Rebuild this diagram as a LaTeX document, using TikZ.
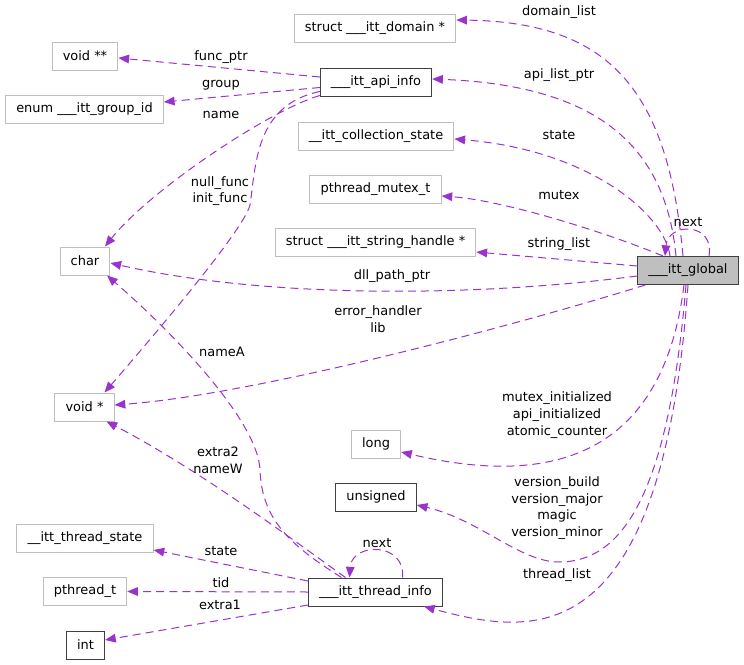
\documentclass[tikz,border=0pt]{standalone}
\usepackage{fontspec}
\setmainfont{DejaVu Sans}
\usetikzlibrary{arrows.meta,calc}
\definecolor{edgepurple}{HTML}{9A32CD}
\definecolor{boxgray}{HTML}{BFBFBF}
\definecolor{boxdark}{HTML}{404040}

\begin{document}
\begin{tikzpicture}[x=0.75pt, y=-0.75pt,
  every node/.style={font=\fontsize{9.7}{12.5}\selectfont},
  cls/.style={draw=boxgray, line width=0.75pt, fill=white, inner xsep=8pt, inner ysep=0pt, minimum height=21pt},
  doc/.style={cls, draw=boxdark},
  lbl/.style={align=center, inner sep=0pt},
  mem/.style={edgepurple, line width=0.75pt, dash pattern=on 6pt off 3.8pt, -{Triangle[length=8pt,width=6.5pt]}}]
\useasboundingbox (0,0) rectangle (744,665);

% classes
\node[cls] (dom) at (375,28.5) {struct \_\_\_itt\_domain *};
\node[cls] (vpp) at (85,56) {void **};
\node[doc] (api) at (376,82.5) {\_\_\_itt\_api\_info};
\node[cls] (grp) at (84.5,109) {enum \_\_\_itt\_group\_id};
\node[cls] (cst) at (376,136) {\_\_itt\_collection\_state};
\node[cls] (mtx) at (375.5,189) {pthread\_mutex\_t};
\node[cls] (strh) at (375.5,242.5) {struct \_\_\_itt\_string\_handle *};
\node[doc, fill=boxgray] (glob) at (688,270.5) {\_\_\_itt\_global};
\node[cls] (chr) at (85,261) {char};
\node[cls] (vp) at (84.5,407) {void *};
\node[cls] (lng) at (376,444) {long};
\node[doc] (uns) at (376,497) {unsigned};
\node[cls] (tst) at (85,538.5) {\_\_itt\_thread\_state};
\node[cls] (pth) at (85,591.5) {pthread\_t};
\node[doc] (thr) at (375.5,592) {\_\_\_itt\_thread\_info};
\node[doc] (intn) at (85.5,645) {int};

% members of ___itt_global
\draw[mem] ($(glob.north)+(-5,0)$) .. controls (668,90) and (610,22) .. ($(dom.east)+(0,-8.5)$);
\draw[mem] ($(glob.north)+(-12,0)$) .. controls (665,140) and (590,85) .. ($(api.east)+(0,-3.5)$);
\draw[mem] ($(glob.north)+(-18,0)$) .. controls (665,215) and (590,150) .. ($(cst.east)+(0,3)$);
\draw[mem] ($(glob.north)+(-25,0)$) .. controls (600,230) and (500,200) .. ($(mtx.east)+(0,7)$);
\draw[mem] ($(glob.west)+(0,-4.5)$) -- ($(strh.east)+(0,9.5)$);
\draw[mem] ($(glob.west)+(0,5.5)$) .. controls (450,300) and (250,295) .. ($(chr.east)+(0,2)$);
\draw[mem] ($(glob.south west)+(8,0)$) .. controls (500,330) and (250,395) .. ($(vp.east)+(0,-2)$);
\draw[mem] ($(glob.south)+(-4,0)$) .. controls (660,480) and (520,480) .. ($(lng.east)+(0,8)$);
\draw[mem] ($(glob.south)+(-2,0)$) .. controls (668,500) and (620,562) .. (559,562)
  .. controls (520,562) and (480,520) .. ($(uns.east)+(0,8)$);
\draw[mem] (glob.south) .. controls (662,660) and (530,635) .. ($(thr.south)+(48.5,0)$);
\draw[mem] ($(glob.north)+(21,0)$) .. controls (715,222) and (668,222) .. ($(glob.north)+(-23,0)$);

% members of ___itt_api_info
\draw[mem] ($(api.west)+(0,-5.5)$) -- ($(vpp.east)+(0,2)$);
\draw[mem] ($(api.west)+(0,5)$) -- ($(grp.east)+(0,-7)$);
\draw[mem] ($(api.west)+(0,13)$) .. controls (270,110) and (150,190) .. ($(chr.north)+(20,0)$);
\draw[mem] ($(api.west)+(0,9)$) .. controls (255,105) and (256,165) .. (250,205)
  .. controls (244,230) and (150,340) .. ($(vp.north)+(20,0)$);

% members of ___itt_thread_info
\draw[mem] ($(thr.north)+(-34,0)$) .. controls (290,545) and (262,520) .. (260,470)
  .. controls (258,420) and (170,330) .. ($(chr.south)+(22,0)$);
\draw[mem] ($(thr.north)+(-30,0)$) .. controls (300,545) and (200,470) .. ($(vp.south)+(22,0)$);
\draw[mem] ($(thr.north)+(27,0)$) .. controls (406,542) and (352,542) .. ($(thr.north)+(-26,0)$);
\draw[mem] ($(thr.west)+(0,-11)$) -- ($(tst.east)+(0,11.5)$);
\draw[mem] (thr.west) -- (pth.east);
\draw[mem] ($(thr.west)+(0,13)$) -- ($(intn.east)+(0,-5)$);

% labels
\node[lbl] (lDomain) at (559,12) {domain\_list};
\node[lbl] (lApiList) at (559,75) {api\_list\_ptr};
\node[lbl] (lState) at (559,135) {state};
\node[lbl] (lMutex) at (559,195) {mutex};
\node[lbl] (lString) at (559,244) {string\_list};
\node[lbl] (lNextG) at (688,222) {next};
\node[lbl] (lDll) at (392,276) {dll\_path\_ptr};
\node[lbl] (lErr) at (378,319) {error\_handler\\lib};
\node[lbl] (lLong) at (557,415) {mutex\_initialized\\api\_initialized\\atomic\_counter};
\node[lbl] (lUns) at (557,508) {version\_build\\version\_major\\magic\\version\_minor};
\node[lbl] (lThrList) at (557,575) {thread\_list};
\node[lbl] (lFunc) at (221,57) {func\_ptr};
\node[lbl] (lGroup) at (221,85) {group};
\node[lbl] (lName) at (221,115) {name};
\node[lbl] (lNull) at (220,191) {null\_func\\init\_func};
\node[lbl] (lNameA) at (222,352) {nameA};
\node[lbl] (lExtra2) at (218,460) {extra2\\nameW};
\node[lbl] (lNextT) at (377,543) {next};
\node[lbl] (lTState) at (221,551) {state};
\node[lbl] (lTid) at (221,583) {tid};
\node[lbl] (lExtra1) at (220,605) {extra1};
\end{tikzpicture}
\end{document}
